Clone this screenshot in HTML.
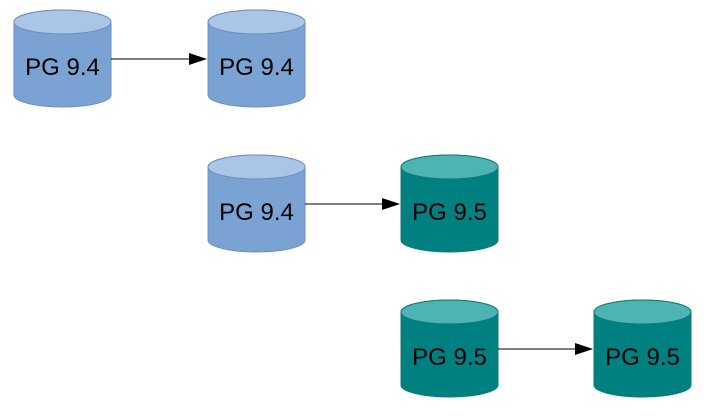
<!DOCTYPE html>
<html><head><style>html,body{margin:0;padding:0;background:#fff;}svg{display:block}</style></head>
<body>
<svg width="704" height="420" xmlns="http://www.w3.org/2000/svg" font-family="Liberation Sans, sans-serif" font-size="24">
<defs>
<marker id="a" markerWidth="18" markerHeight="12" refX="17" refY="6" orient="auto" markerUnits="userSpaceOnUse">
<path d="M0,0 L18,6 L0,12 Z" fill="#000"/>
</marker>
</defs>
<g>
<path d="M14,22 A48.5,12 0 0 1 111,22 L111,95 A48.5,12 0 0 1 14,95 Z" fill="#7aa3d3" stroke="#6c8ebf"/>
<ellipse cx="62.5" cy="22" rx="48.5" ry="12" fill="#a9c5e8" stroke="#6c8ebf"/>
<text x="62.5" y="75" text-anchor="middle">PG 9.4</text>
</g>
<g transform="translate(194,0)">
<path d="M14,22 A48.5,12 0 0 1 111,22 L111,95 A48.5,12 0 0 1 14,95 Z" fill="#7aa3d3" stroke="#6c8ebf"/>
<ellipse cx="62.5" cy="22" rx="48.5" ry="12" fill="#a9c5e8" stroke="#6c8ebf"/>
<text x="62.5" y="75" text-anchor="middle">PG 9.4</text>
</g>
<g transform="translate(194,145)">
<path d="M14,22 A48.5,12 0 0 1 111,22 L111,95 A48.5,12 0 0 1 14,95 Z" fill="#7aa3d3" stroke="#6c8ebf"/>
<ellipse cx="62.5" cy="22" rx="48.5" ry="12" fill="#a9c5e8" stroke="#6c8ebf"/>
<text x="62.5" y="75" text-anchor="middle">PG 9.4</text>
</g>
<g transform="translate(387,145)">
<path d="M14,22 A48.5,12 0 0 1 111,22 L111,95 A48.5,12 0 0 1 14,95 Z" fill="#008080" stroke="#0e7a7a"/>
<ellipse cx="62.5" cy="22" rx="48.5" ry="12" fill="#4db3b3" stroke="#0e7a7a"/>
<text x="62.5" y="75" text-anchor="middle">PG 9.5</text>
</g>
<g transform="translate(387,290)">
<path d="M14,22 A48.5,12 0 0 1 111,22 L111,95 A48.5,12 0 0 1 14,95 Z" fill="#008080" stroke="#0e7a7a"/>
<ellipse cx="62.5" cy="22" rx="48.5" ry="12" fill="#4db3b3" stroke="#0e7a7a"/>
<text x="62.5" y="75" text-anchor="middle">PG 9.5</text>
</g>
<g transform="translate(580,290)">
<path d="M14,22 A48.5,12 0 0 1 111,22 L111,95 A48.5,12 0 0 1 14,95 Z" fill="#008080" stroke="#0e7a7a"/>
<ellipse cx="62.5" cy="22" rx="48.5" ry="12" fill="#4db3b3" stroke="#0e7a7a"/>
<text x="62.5" y="75" text-anchor="middle">PG 9.5</text>
</g>
<line x1="111" y1="59" x2="206" y2="59" stroke="#000" marker-end="url(#a)"/>
<line x1="305" y1="204" x2="399" y2="204" stroke="#000" marker-end="url(#a)"/>
<line x1="498" y1="349" x2="592" y2="349" stroke="#000" marker-end="url(#a)"/>
</svg>
</body></html>
